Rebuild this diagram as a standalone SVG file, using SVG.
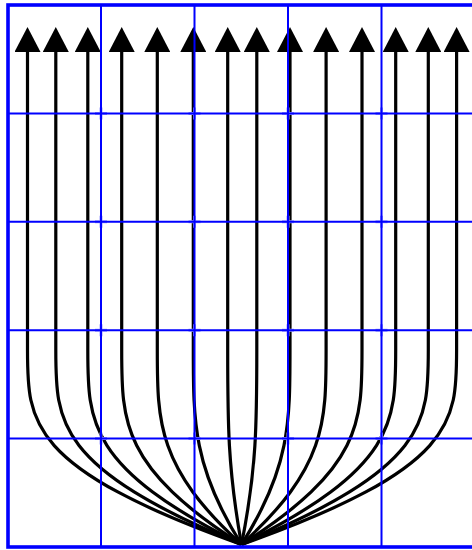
<svg xmlns="http://www.w3.org/2000/svg" width="472" height="550" viewBox="0 0 472 550">
<style>
.c{fill:none;stroke:#000;stroke-width:3.2;marker-end:url(#ah)}
.g{fill:none;stroke:#0000ff;stroke-width:2}
.b{fill:none;stroke:#0000ff;stroke-width:3.6}
.x{fill:none;stroke:#9f9fff;stroke-width:3}
</style>
<defs>
<marker id="ah" markerUnits="userSpaceOnUse" markerWidth="25" markerHeight="26" viewBox="0 0 25 26" refX="0" refY="13" orient="auto">
<path d="M0,0 L25,13 L0,26 z" fill="#000"/>
</marker>
</defs>
<rect width="472" height="550" fill="#fff"/>
<g id="connectors">
<path class="c" d="M241.5,544.5 C27.5,468 27.5,422 27.5,350 L27.5,52"/>
<path class="c" d="M241.5,544.5 C55.8,468 55.8,422 55.8,350 L55.8,52"/>
<path class="c" d="M241.5,544.5 C87.8,468 87.8,422 87.8,350 L87.8,52"/>
<path class="c" d="M241.5,544.5 C121.7,468 121.7,422 121.7,350 L121.7,52"/>
<path class="c" d="M241.5,544.5 C157.3,468 157.3,422 157.3,350 L157.3,52"/>
<path class="c" d="M241.5,544.5 C193.3,468 193.3,422 193.3,350 L193.3,52"/>
<path class="c" d="M241.5,544.5 C227.7,468 227.7,422 227.7,350 L227.7,52"/>
<path class="c" d="M241.5,544.5 C256.8,468 256.8,422 256.8,350 L256.8,52"/>
<path class="c" d="M241.5,544.5 C290,468 290,422 290,350 L290,52"/>
<path class="c" d="M241.5,544.5 C326.1,468 326.1,422 326.1,350 L326.1,52"/>
<path class="c" d="M241.5,544.5 C362,468 362,422 362,350 L362,52"/>
<path class="c" d="M241.5,544.5 C395.7,468 395.7,422 395.7,350 L395.7,52"/>
<path class="c" d="M241.5,544.5 C428.3,468 428.3,422 428.3,350 L428.3,52"/>
<path class="c" d="M241.5,544.5 C456.6,468 456.6,422 456.6,350 L456.6,52"/>
</g>
<g id="grid">
<path class="x" d="M95,113.4h12M101,107.4v12M188.5,113.4h12M194.5,107.4v12M282,113.4h12M288,107.4v12M375.5,113.4h12M381.5,107.4v12
M95,221.8h12M101,215.8v12M188.5,221.8h12M194.5,215.8v12M282,221.8h12M288,215.8v12M375.5,221.8h12M381.5,215.8v12
M95,330.2h12M101,324.2v12M188.5,330.2h12M194.5,324.2v12M282,330.2h12M288,324.2v12M375.5,330.2h12M381.5,324.2v12
M95,438.6h12M101,432.6v12M188.5,438.6h12M194.5,432.6v12M282,438.6h12M288,432.6v12M375.5,438.6h12M381.5,432.6v12"/>
<path class="g" d="M101,5V547M194.5,5V547M288,5V547M381.5,5V547M8,113.4H472M8,221.8H472M8,330.2H472M8,438.6H472"/>
<rect class="b" x="8" y="5" width="467" height="542"/>
</g>
</svg>
